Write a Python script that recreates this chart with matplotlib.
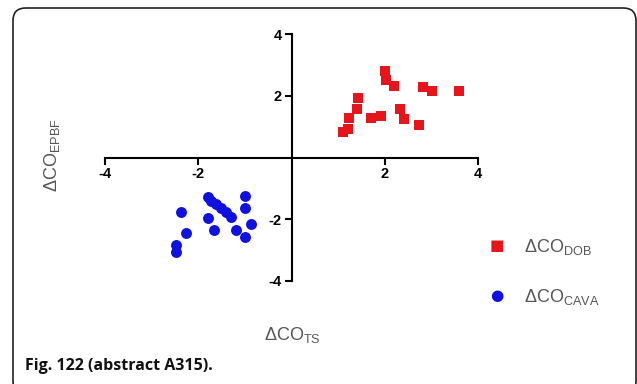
import matplotlib
matplotlib.use("Agg")
import matplotlib.pyplot as plt
from matplotlib.patches import FancyBboxPatch

plt.rcParams["font.family"] = ["Liberation Sans", "DejaVu Sans"]
plt.rcParams["mathtext.fontset"] = "custom"
plt.rcParams["mathtext.rm"] = "Liberation Sans"
plt.rcParams["mathtext.it"] = "Liberation Sans:italic"
plt.rcParams["mathtext.bf"] = "Liberation Sans:bold"

# data
dob_x = [1.11, 1.22, 1.24, 1.40, 1.42, 1.70, 1.92, 2.01, 2.03, 2.20, 2.33, 2.42, 2.74, 2.81, 3.01, 3.60]
dob_y = [0.84, 0.92, 1.27, 1.57, 1.94, 1.27, 1.35, 2.79, 2.51, 2.32, 1.57, 1.24, 1.06, 2.27, 2.16, 2.16]

cava_x = [-2.38, -2.27, -2.48, -2.48, -1.79, -1.73, -1.62, -1.52, -1.41, -1.30,
          -1.79, -1.67, -1.19, -0.99, -0.99, -0.87, -0.99]
cava_y = [-1.76, -2.46, -2.83, -3.06, -1.27, -1.40, -1.51, -1.64, -1.78, -1.94,
          -1.97, -2.35, -2.35, -1.26, -1.65, -2.14, -2.57]

ticks = [-4, -2, 2, 4]
lab_color = "#555555"

W, H = 637, 384
fig = plt.figure(figsize=(W / 100, H / 100), dpi=100)

# rounded frame around the whole figure
frame = FancyBboxPatch((13 / W, -10 / H), (623 / W), (H - 8 + 10) / H,
                       boxstyle="round,pad=0,rounding_size=0.02",
                       transform=fig.transFigure, fill=False,
                       edgecolor="#222222", linewidth=1.2, mutation_aspect=W / H)
fig.patches.append(frame)

ax = fig.add_axes([105 / W, 1 - 281 / H, 373 / W, 247 / H])
ax.scatter(dob_x, dob_y, marker="s", s=60, color="#e8141b", linewidths=0, zorder=3)
ax.scatter(cava_x, cava_y, marker="o", s=62, color="#1010e0", linewidths=0, zorder=3)

ax.set_xlim(-4, 4)
ax.set_ylim(-4, 4)
for side in ["top", "right"]:
    ax.spines[side].set_visible(False)
ax.spines["left"].set_position(("data", 0))
ax.spines["bottom"].set_position(("data", 0))
for side in ["left", "bottom"]:
    ax.spines[side].set_linewidth(1.5)
ax.set_xticks(ticks)
ax.set_yticks(ticks)
ax.set_xticklabels([str(t) for t in ticks], fontweight="bold", fontsize=10.5)
ax.set_yticklabels([str(t) for t in ticks], fontweight="bold", fontsize=10.5)
ax.tick_params(direction="out", length=5, width=1.5, pad=2)
ax.patch.set_alpha(0)

# axis titles
fig.text(292 / W, 1 - 335 / H, r"ΔCO$_{\mathrm{TS}}$", ha="center", va="center",
         fontsize=13, color=lab_color)
fig.text(52 / W, 1 - 155 / H, r"ΔCO$_{\mathrm{EPBF}}$", ha="center", va="center",
         fontsize=13, color=lab_color, rotation=90)

# legend
fig.text(497 / W, 1 - 246 / H, "■", ha="center", va="center", fontsize=11,
         color="#e8141b", family="DejaVu Sans")
fig.text(524 / W, 1 - 247 / H, r"ΔCO$_{\mathrm{DOB}}$", ha="left", va="center",
         fontsize=13, color=lab_color)
fig.text(497 / W, 1 - 296 / H, "●", ha="center", va="center", fontsize=11,
         color="#1010e0", family="DejaVu Sans")
fig.text(524 / W, 1 - 297 / H, r"ΔCO$_{\mathrm{CAVA}}$", ha="left", va="center",
         fontsize=13, color=lab_color)

# caption
fig.text(25 / W, 1 - 366 / H, "Fig. 122 (abstract A315).", ha="left", va="center",
         fontsize=11.5, fontweight="bold", family="Open Sans", color="#111111")

fig.savefig("out.png", dpi=100)
